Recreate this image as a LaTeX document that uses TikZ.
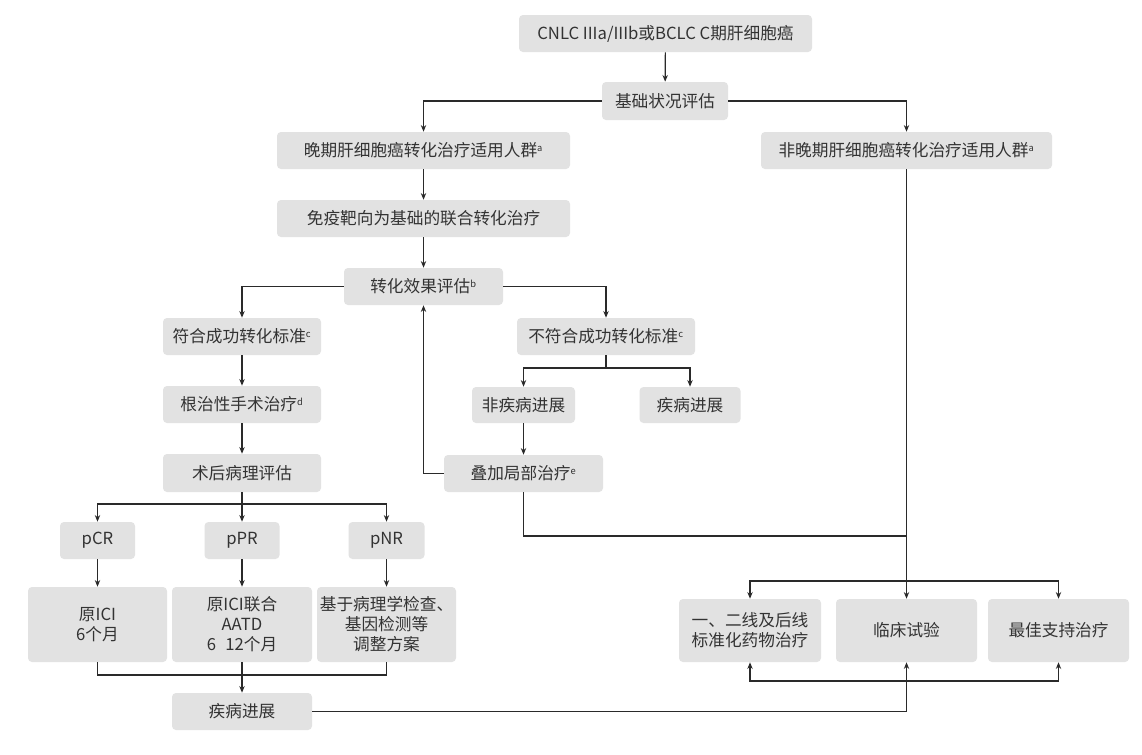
\documentclass[tikz,border=0pt]{standalone}
\usepackage{fontspec}
\setmainfont{Noto Sans CJK SC}
\usetikzlibrary{arrows.meta}
\def\pu{0.75pt}
\newcommand\sps[1]{\textsuperscript{\scriptsize #1}}
\begin{document}
\begin{tikzpicture}[x=0.75pt,y=-0.75pt,
  bx/.style={fill=boxgray,rounded corners=3pt,text=txtgray,font=\fontsize{12.5}{15}\selectfont,align=center,inner sep=0pt},
  ln/.style={draw=linegray,line width=0.9pt},
  arr/.style={ln,-{Stealth[length=5pt,width=4pt]}}]
\definecolor{boxgray}{HTML}{E2E2E2}
\definecolor{txtgray}{HTML}{333333}
\definecolor{linegray}{HTML}{2A2A2A}
\useasboundingbox (0,0) rectangle (1142,754);
\fill[white] (0,0) rectangle (1142,754);
\node[bx,minimum width=293*\pu,minimum height=37*\pu] (top) at (665.5,33.5) {CNLC IIIa/IIIb或BCLC C期肝细胞癌};
\node[bx,minimum width=126*\pu,minimum height=38*\pu] (base) at (665,101) {基础状况评估};
\node[bx,minimum width=293*\pu,minimum height=37*\pu] (late) at (423.5,150.5) {晚期肝细胞癌转化治疗适用人群\sps{a}};
\node[bx,minimum width=291*\pu,minimum height=37*\pu] (nonlate) at (906.5,150.5) {非晚期肝细胞癌转化治疗适用人群\sps{a}};
\node[bx,minimum width=293*\pu,minimum height=37*\pu] (immune) at (423.5,218.5) {免疫靶向为基础的联合转化治疗};
\node[bx,minimum width=159*\pu,minimum height=37*\pu] (eval) at (423.5,286.5) {转化效果评估\sps{b}};
\node[bx,minimum width=158*\pu,minimum height=37*\pu] (meet) at (242,336.5) {符合成功转化标准\sps{c}};
\node[bx,minimum width=178*\pu,minimum height=37*\pu] (notmeet) at (606,336.5) {不符合成功转化标准\sps{c}};
\node[bx,minimum width=103*\pu,minimum height=36*\pu] (nonprog) at (523.5,405) {非疾病进展};
\node[bx,minimum width=101*\pu,minimum height=36*\pu] (prog) at (690,405) {疾病进展};
\node[bx,minimum width=159*\pu,minimum height=37*\pu] (local) at (523.5,473.5) {叠加局部治疗\sps{e}};
\node[bx,minimum width=158*\pu,minimum height=37*\pu] (radical) at (242,404.5) {根治性手术治疗\sps{d}};
\node[bx,minimum width=158*\pu,minimum height=38*\pu] (path) at (242,473) {术后病理评估};
\node[bx,minimum width=75*\pu,minimum height=37*\pu] (pcr) at (97.5,540.5) {pCR};
\node[bx,minimum width=75*\pu,minimum height=37*\pu] (ppr) at (242,540.5) {pPR};
\node[bx,minimum width=76*\pu,minimum height=37*\pu] (pnr) at (386.5,540.5) {pNR};
\node[bx,minimum width=139*\pu,minimum height=75*\pu] (ici) at (97.5,624.5) {原ICI\\6个月};
\node[bx,minimum width=140*\pu,minimum height=75*\pu] (comb) at (242,624.5) {原ICI联合\\AATD\\6\,~\,12个月};
\node[bx,minimum width=139*\pu,minimum height=75*\pu] (based) at (386.5,624.5) {基于病理学检查、\\基因检测等\\调整方案};
\node[bx,minimum width=140*\pu,minimum height=37*\pu] (progb) at (242,711.5) {疾病进展};
\node[bx,minimum width=142*\pu,minimum height=63*\pu] (std) at (750,630.5) {一、二线及后线\\标准化药物治疗};
\node[bx,minimum width=141*\pu,minimum height=63*\pu] (trial) at (906.5,630.5) {临床试验};
\node[bx,minimum width=141*\pu,minimum height=63*\pu] (best) at (1058.5,630.5) {最佳支持治疗};
\coordinate (s1) at (606,368);
\coordinate (s2) at (242,504);
\coordinate (m1) at (242,675);
\coordinate (j1) at (523.5,536);
\coordinate (j2) at (906.5,536);
\coordinate (tb) at (906.5,581);
\coordinate (bb) at (906.5,681);
\draw[arr] (top) -- (base);
\draw[arr] (base.west) -| (late.north);
\draw[arr] (base.east) -| (nonlate.north);
\draw[arr] (late) -- (immune);
\draw[arr] (immune) -- (eval);
\draw[arr] (eval.west) -| (meet.north);
\draw[arr] (eval.east) -| (notmeet.north);
\draw[ln] (notmeet.south) -- (s1);
\draw[arr] (s1) -| (nonprog.north);
\draw[arr] (s1) -| (prog.north);
\draw[arr] (nonprog) -- (local);
\draw[arr] (local.west) -| (eval.south);
\draw[ln] (local.south) |- (j2);
\draw[arr] (nonlate.south) -- (trial.north);
\draw[arr] (tb) -| (std.north);
\draw[arr] (tb) -| (best.north);
\draw[arr] (progb.east) -| (trial.south);
\draw[arr] (bb) -| (std.south);
\draw[arr] (bb) -| (best.south);
\draw[arr] (meet) -- (radical);
\draw[arr] (radical) -- (path);
\draw[ln] (path.south) -- (s2);
\draw[arr] (s2) -| (pcr.north);
\draw[arr] (s2) -- (ppr.north);
\draw[arr] (s2) -| (pnr.north);
\draw[arr] (pcr) -- (ici);
\draw[arr] (ppr) -- (comb);
\draw[arr] (pnr) -- (based);
\draw[ln] (ici.south) |- (m1) -| (based.south);
\draw[ln] (comb.south) -- (m1);
\draw[arr] (m1) -- (progb.north);
\end{tikzpicture}
\end{document}
